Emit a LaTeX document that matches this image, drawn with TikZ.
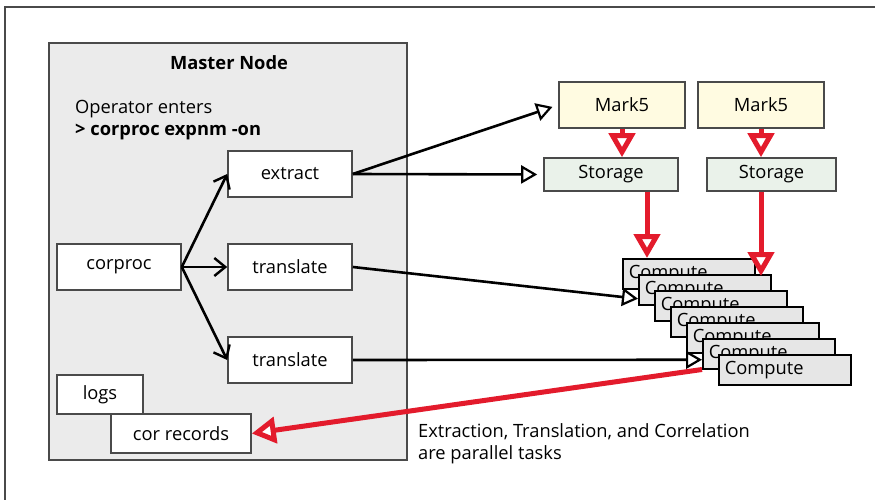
\documentclass[tikz,border=0pt]{standalone}
\usepackage{fontspec}
\setmainfont{Open Sans}
\usepackage{tikz}
\usetikzlibrary{arrows.meta}

\definecolor{masterfill}{HTML}{EBEBEB}
\definecolor{markfill}{HTML}{FFFBE1}
\definecolor{storefill}{HTML}{EAF2EA}
\definecolor{compfill}{HTML}{E6E6E6}
\definecolor{boxline}{HTML}{4A4A4A}
\definecolor{flowred}{HTML}{E31B2C}

\begin{document}
\begin{tikzpicture}[x=1pt, y=-1pt,
	every node/.style={font=\fontsize{18.3}{22}\selectfont},
	box/.style={draw=boxline, line width=1.6pt, fill=white, inner sep=0pt},
	markbox/.style={box, fill=markfill, minimum width=126pt, minimum height=46pt},
	storebox/.style={box, fill=storefill, minimum height=33pt},
	compbox/.style={draw=black, line width=1.5pt, fill=compfill, anchor=north west, text width=120pt, inner xsep=6pt, inner ysep=0pt, minimum height=30pt},
	blackarrow/.style={line width=2.6pt, -{Straight Barb[length=11pt, width=18pt, line width=2.4pt]}},
	openarrow/.style={line width=2.6pt, -{Triangle[open, length=16pt, width=18pt, line width=2.2pt, fill=white]}},
	redarrow/.style={draw=flowred, line width=5pt, -{Triangle[open, length=24pt, width=26pt, line width=5pt, fill=white]}}]
	\useasboundingbox (0,0) rectangle (875,500);
	\draw[line width=2pt, boxline] (5,500) -- (5,7) -- (875,7);

	\node[draw=boxline, line width=1.6pt, fill=masterfill, minimum width=358pt, minimum height=417pt, inner sep=0pt] (master) at (228,251.5) {};
	\node[font=\fontsize{18.3}{22}\selectfont\bfseries] (mtitle) at (229,63) {Master Node};
	\node[anchor=west, align=left, inner sep=0pt] (operator) at (75,120) {Operator enters\\\textbf{> corproc expnm -on}};

	\node[box, minimum width=124pt, minimum height=46pt] (corproc) at (119,267) {corproc};
	\node[box, minimum width=124pt, minimum height=46pt] (extract) at (290,174) {extract};
	\node[box, minimum width=124pt, minimum height=46pt] (trans1) at (290,267) {translate};
	\node[box, minimum width=124pt, minimum height=46pt] (trans2) at (290,360) {translate};
	\node[box, minimum width=86pt, minimum height=39pt] (logs) at (100,394.5) {logs};
	\node[box, minimum width=140pt, minimum height=39pt] (correc) at (181,433.5) {cor records};

	\node[markbox] (marka) at (622,105) {Mark5};
	\node[markbox] (markb) at (761,105) {Mark5};
	\node[storebox, minimum width=134pt] (storea) at (611,174.5) {Storage};
	\node[storebox, minimum width=129pt] (storeb) at (771.5,174.5) {Storage};

	\foreach \i in {0,...,6}
		\node[compbox] (comp\i) at ({622+16*\i},{258+16*\i}) {Compute};

	\draw[blackarrow] (corproc.east) -- (extract.west);
	\draw[blackarrow] (corproc.east) -- (trans1.west);
	\draw[blackarrow] (corproc.east) -- (trans2.west);

	\draw[openarrow, shorten >=6pt] (extract.east) -- (marka.west);
	\draw[openarrow, shorten >=6pt] (extract.east) -- (storea.west);
	\draw[openarrow] (trans1.east) -- ([yshift=-9pt]comp1.west);
	\draw[openarrow] (trans2.east) -- ([yshift=-6pt]comp5.west);

	\draw[redarrow] (marka.south) -- (marka.south |- storea.north);
	\draw[redarrow] (markb.south) -- (markb.south |- storeb.north);
	\draw[redarrow] ([xshift=36pt]storea.south) -- ([xshift=36pt]storea.south |- comp0.north);
	\draw[redarrow] (markb.south |- storeb.south) -- ([yshift=-2pt]markb.south |- comp1.north);
	\draw[redarrow] (comp5.south west) -- (correc.east);

	\node[anchor=west, align=left, inner sep=0pt] (caption) at (418,444) {Extraction, Translation, and Correlation\\are parallel tasks};
\end{tikzpicture}
\end{document}
